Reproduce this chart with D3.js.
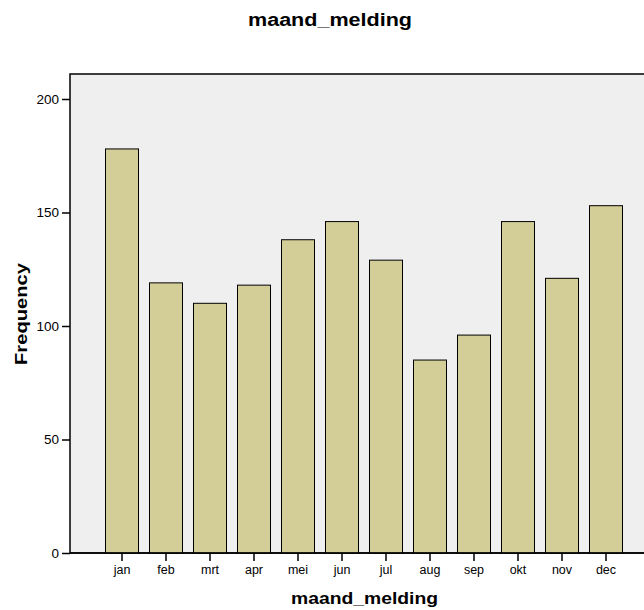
<!DOCTYPE html>
<html><head><meta charset="utf-8">
<script src="https://cdn.jsdelivr.net/npm/d3@7"></script>
<style>body{margin:0;background:#fff;} text{font-family:"Liberation Sans",Arial,sans-serif;}</style>
</head><body>
<svg id="c" width="644" height="610"></svg>
<script>
const months = ["jan","feb","mrt","apr","mei","jun","jul","aug","sep","okt","nov","dec"];
const frequency = [178,119,110,118,138,146,129,85,96,146,121,153];
const yTicks = [0,50,100,150,200];

const svg = d3.select("#c");
const plot = {left:70, right:652, top:74, bottom:553};

const x = d3.scaleBand().domain(months).range([100,628]).paddingInner(0.25).paddingOuter(0.125);
const y = d3.scaleLinear().domain([0,200]).range([553,99]);

svg.append("rect").attr("x",plot.left).attr("y",plot.top)
  .attr("width",plot.right-plot.left).attr("height",plot.bottom-plot.top)
  .attr("fill","#efefef").attr("stroke","#000").attr("stroke-width",1.5);

svg.append("g").selectAll("rect").data(months).join("rect")
  .attr("x",d=>x(d)).attr("width",x.bandwidth())
  .attr("y",(d,i)=>y(frequency[i])).attr("height",(d,i)=>y(0)-y(frequency[i]))
  .attr("fill","#d3ce98").attr("stroke","#000").attr("stroke-width",1);

const ya = svg.append("g").attr("transform",`translate(${plot.left},0)`)
  .call(d3.axisLeft(y).tickValues(yTicks).tickSize(8).tickPadding(3));
ya.select(".domain").remove();
ya.selectAll("line").attr("stroke","#000").attr("stroke-width",1.5);
ya.selectAll("text").attr("font-size",13.5).attr("fill","#000").style("font-family","Liberation Sans, Arial, sans-serif");

const xa = svg.append("g").attr("transform",`translate(0,${plot.bottom})`)
  .call(d3.axisBottom(x).tickSize(8).tickPadding(4));
xa.select(".domain").remove();
xa.selectAll("line").attr("stroke","#000").attr("stroke-width",1.5);
xa.selectAll("text").attr("font-size",12.5).attr("fill","#000").style("font-family","Liberation Sans, Arial, sans-serif");

svg.append("line").attr("x1",plot.left).attr("x2",plot.right).attr("y1",plot.bottom).attr("y2",plot.bottom)
  .attr("stroke","#000").attr("stroke-width",1.5);

svg.append("text").attr("x",330).attr("y",26).attr("text-anchor","middle")
  .attr("font-size",18).attr("font-weight","bold")
  .attr("textLength",164).attr("lengthAdjust","spacingAndGlyphs").text("maand_melding");
svg.append("text").attr("x",364.5).attr("y",604).attr("text-anchor","middle")
  .attr("font-size",17).attr("font-weight","bold")
  .attr("textLength",147).attr("lengthAdjust","spacingAndGlyphs").text("maand_melding");
svg.append("text").attr("transform","translate(27,314) rotate(-90)").attr("text-anchor","middle")
  .attr("font-size",17).attr("font-weight","bold")
  .attr("textLength",102).attr("lengthAdjust","spacingAndGlyphs").text("Frequency");
</script>
</body></html>
